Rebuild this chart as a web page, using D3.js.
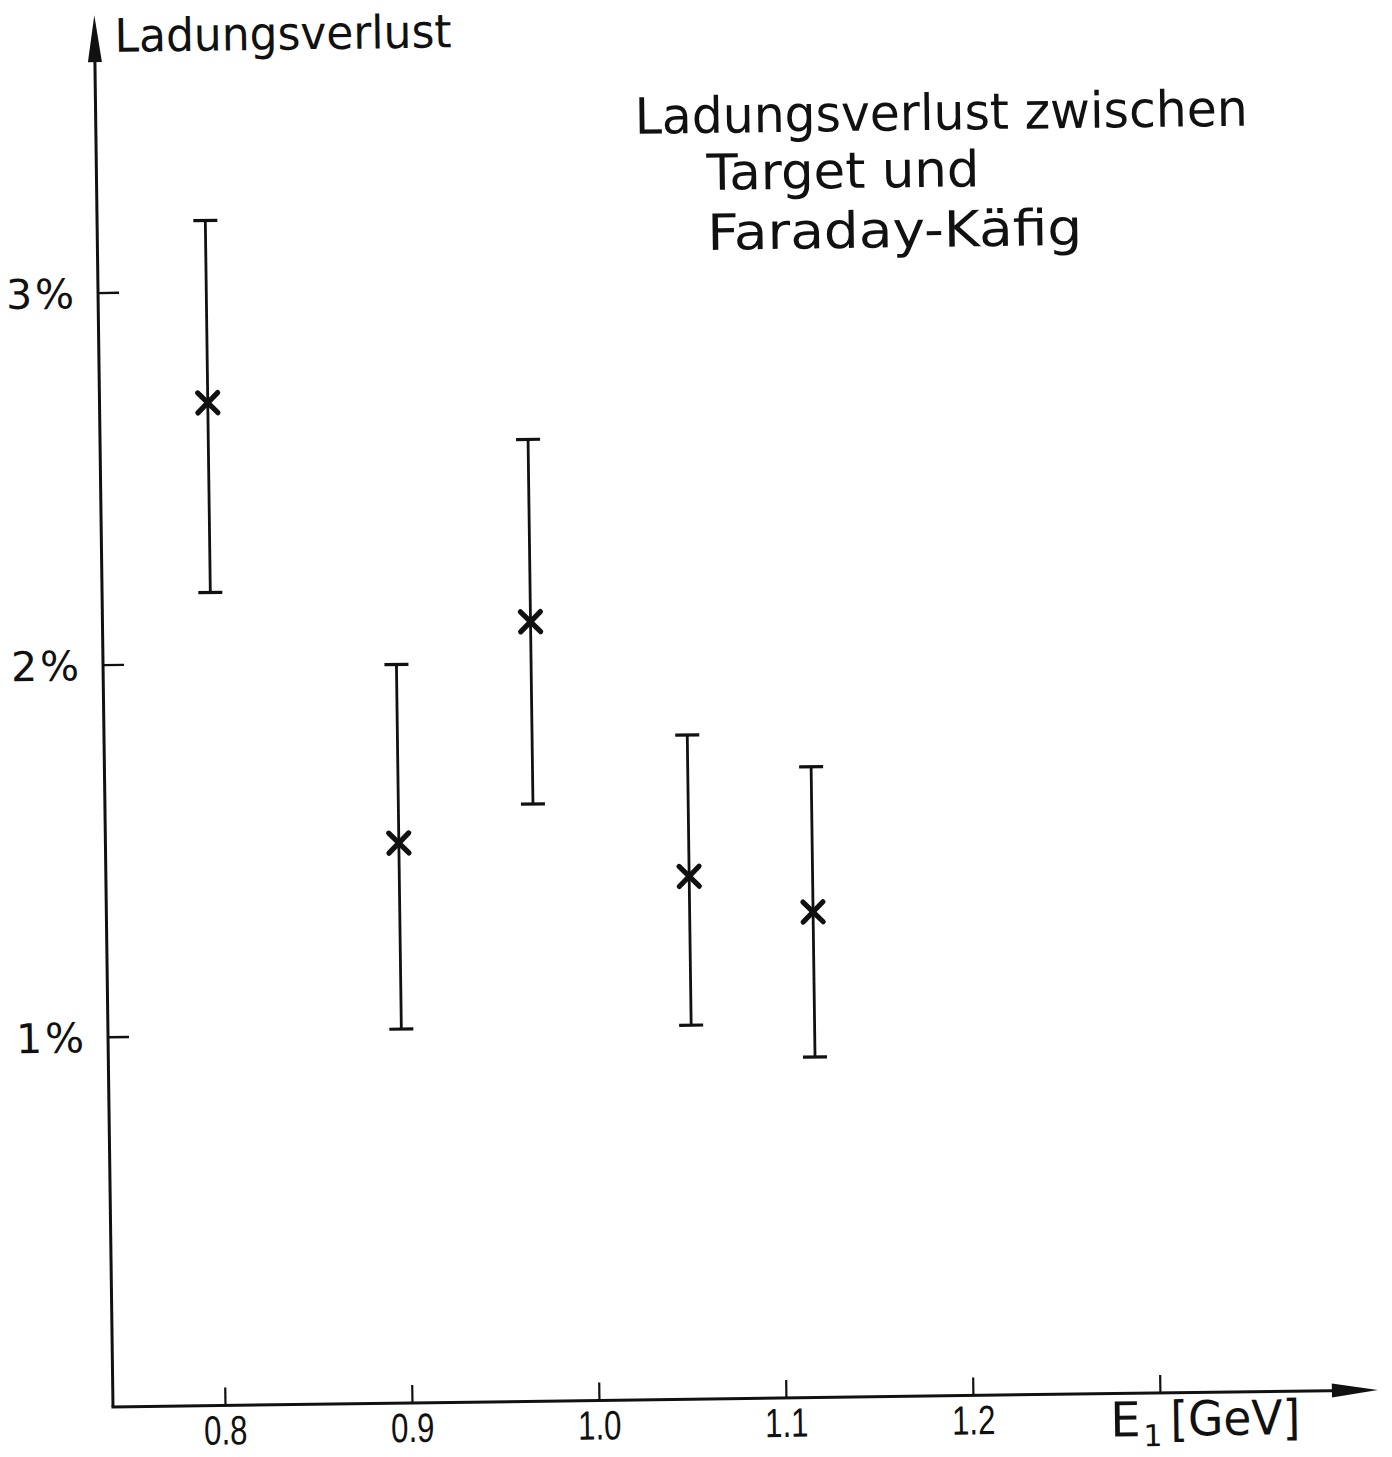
<!DOCTYPE html>
<html>
<head>
<meta charset="utf-8">
<script src="https://cdn.jsdelivr.net/npm/d3@7"></script>
<style>
  html, body { margin: 0; background: #fff; }
  svg { display: block; }
</style>
</head>
<body>
<svg id="chart" width="1392" height="1457"></svg>
<script>
// Beam energy E1 [GeV] of each measurement
const energies = [0.798, 0.897, 0.969, 1.052, 1.118];
// Charge loss between target and Faraday cup [%]
const loss = [2.70, 1.51, 2.10, 1.41, 1.31];
// Upper and lower ends of the error bars [%]
const lossHigh = [3.19, 1.99, 2.59, 1.79, 1.70];
const lossLow = [2.19, 1.01, 1.61, 1.01, 0.92];

const xTicks = [0.8, 0.9, 1.0, 1.1, 1.2, 1.3];
const xTickLabels = ["0.8", "0.9", "1.0", "1.1", "1.2", ""];
const yTicks = [1, 2, 3];
const yTickLabels = ["1%", "2%", "3%"];
const titleLines = ["Ladungsverlust zwischen", "Target und", "Faraday-Käfig"];
const yAxisTitle = "Ladungsverlust";

const ink = "#111";
const font = "'DejaVu Sans', sans-serif";

// origin of the plot (where the axes meet)
const ox = 113, oy = 1407;

const x = d3.scaleLinear().domain([0.8, 1.3]).range([225, 1160]);
const y = d3.scaleLinear().domain([0, 3]).range([1408.8, 292.5]);

const svg = d3.select("#chart");
// the whole drawing sits slightly turned, like the sheet it was drawn on
const g = svg.append("g").attr("transform", `rotate(-0.77 ${ox} ${oy})`);

// ---- axes lines with arrow heads ----
g.append("line")
  .attr("x1", ox).attr("y1", oy).attr("x2", ox).attr("y2", 40)
  .attr("stroke", ink).attr("stroke-width", 3);
g.append("path")
  .attr("d", `M${ox},15 L${ox - 7},62 L${ox + 7},62 Z`)
  .attr("fill", ink);

g.append("line")
  .attr("x1", ox - 1.5).attr("y1", oy).attr("x2", 1350).attr("y2", oy)
  .attr("stroke", ink).attr("stroke-width", 3);
g.append("path")
  .attr("d", `M1378,${oy} L1332,${oy - 7} L1332,${oy + 7} Z`)
  .attr("fill", ink);

// ---- x axis ticks and labels ----
const xAxis = d3.axisBottom(x)
  .tickValues(xTicks)
  .tickSize(-18)
  .tickPadding(0)
  .tickFormat((d, i) => xTickLabels[i]);

const xg = g.append("g").attr("transform", `translate(0,${oy})`).call(xAxis);
xg.select(".domain").remove();
xg.selectAll(".tick line").attr("stroke", ink).attr("stroke-width", 2.2);
xg.selectAll(".tick text")
  .attr("fill", ink)
  .attr("font-family", "'Liberation Sans', sans-serif")
  .attr("font-size", 41)
  .attr("y", 39)
  .attr("dy", 0)
  .attr("transform", "scale(0.76,1)");

// ---- y axis ticks and labels ----
const yAxis = d3.axisLeft(y)
  .tickValues(yTicks)
  .tickSize(-21)
  .tickPadding(0)
  .tickFormat((d, i) => yTickLabels[i]);

const yg = g.append("g").attr("transform", `translate(${ox},0)`).call(yAxis);
yg.select(".domain").remove();
yg.selectAll(".tick line").attr("stroke", ink).attr("stroke-width", 2.4);
yg.selectAll(".tick text")
  .attr("fill", ink)
  .attr("font-family", font)
  .attr("font-size", 41)
  .attr("x", -21)
  .attr("dy", "0.36em")
  .attr("text-anchor", "end")
  .attr("letter-spacing", 3);

// ---- axis titles ----
g.append("text")
  .attr("x", 133).attr("y", 52)
  .attr("font-family", font).attr("font-size", 46).attr("fill", ink)
  .attr("textLength", 337).attr("lengthAdjust", "spacingAndGlyphs")
  .text(yAxisTitle);

const eLabel = g.append("g").attr("fill", ink).attr("font-family", font);
eLabel.append("text").attr("x", 1110).attr("y", 1450).attr("font-size", 48).text("E");
eLabel.append("text").attr("x", 1143).attr("y", 1460).attr("font-size", 30).text("1");
eLabel.append("text").attr("x", 1170).attr("y", 1450).attr("font-size", 48)
  .attr("textLength", 130).attr("lengthAdjust", "spacingAndGlyphs")
  .text("[GeV]");

// ---- title block ----
const titlePos = [
  { x: 652, y: 141, w: 613 },
  { x: 723, y: 198, w: 273 },
  { x: 723, y: 258, w: 375 }
];
g.append("g").selectAll("text")
  .data(titleLines)
  .join("text")
  .attr("x", (d, i) => titlePos[i].x)
  .attr("y", (d, i) => titlePos[i].y)
  .attr("textLength", (d, i) => titlePos[i].w)
  .attr("lengthAdjust", "spacingAndGlyphs")
  .attr("font-family", font)
  .attr("font-size", 50)
  .attr("fill", ink)
  .text(d => d);

// ---- data: error bars and crosses ----
const points = energies.map((e, i) => ({ e, v: loss[i], hi: lossHigh[i], lo: lossLow[i] }));
const capHalf = 12;
const armHalf = 10;

const pts = g.append("g").selectAll("g")
  .data(points)
  .join("g");

pts.append("line")
  .attr("x1", d => x(d.e)).attr("x2", d => x(d.e))
  .attr("y1", d => y(d.hi)).attr("y2", d => y(d.lo))
  .attr("stroke", ink).attr("stroke-width", 2.8);

pts.append("line")
  .attr("x1", d => x(d.e) - capHalf).attr("x2", d => x(d.e) + capHalf)
  .attr("y1", d => y(d.hi)).attr("y2", d => y(d.hi))
  .attr("stroke", ink).attr("stroke-width", 3.2);

pts.append("line")
  .attr("x1", d => x(d.e) - capHalf).attr("x2", d => x(d.e) + capHalf)
  .attr("y1", d => y(d.lo)).attr("y2", d => y(d.lo))
  .attr("stroke", ink).attr("stroke-width", 3.2);

pts.append("path")
  .attr("d", d => {
    const cx = x(d.e), cy = y(d.v);
    return `M${cx - armHalf},${cy - armHalf}L${cx + armHalf},${cy + armHalf}` +
           `M${cx - armHalf},${cy + armHalf}L${cx + armHalf},${cy - armHalf}`;
  })
  .attr("stroke", ink).attr("stroke-width", 5.2).attr("stroke-linecap", "round")
  .attr("fill", "none");
</script>
</body>
</html>
